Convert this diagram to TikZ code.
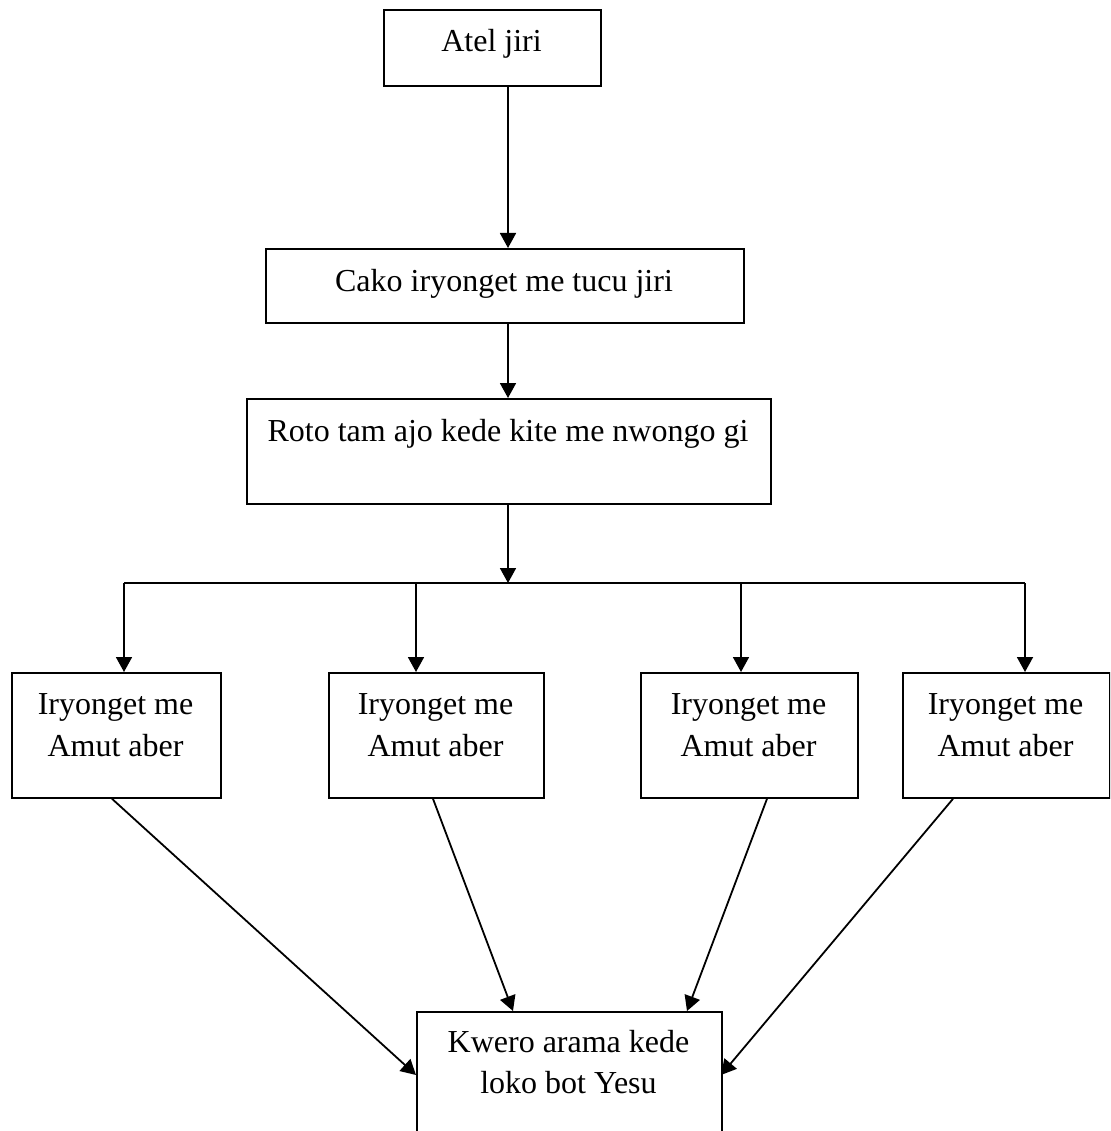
\documentclass[tikz,border=0pt]{standalone}
\usepackage{fontspec}
\setmainfont{Liberation Serif}
\usetikzlibrary{arrows.meta}
\tikzset{
  box/.style={draw, line width=1.8pt, inner sep=0pt, anchor=north west},
  txt/.style={anchor=base, inner sep=0pt, font=\fontsize{32}{42}\selectfont},
  conn/.style={line width=1.8pt},
  arr/.style={line width=1.8pt, -{Triangle[length=15pt,width=16pt]}}
}
\begin{document}
\begin{tikzpicture}[x=1pt,y=-1pt]
\useasboundingbox (0,0) rectangle (1110,1131);
\clip (0,0) rectangle (1110,1131);
% boxes
\node[box, minimum width=217pt, minimum height=76pt] (T) at (383,9) {};
\node[box, minimum width=478pt, minimum height=74pt] (B2) at (265,248) {};
\node[box, minimum width=524pt, minimum height=105pt] (B3) at (246,398) {};
\node[box, minimum width=209pt, minimum height=125pt] (A) at (11,672) {};
\node[box, minimum width=215pt, minimum height=125pt] (B) at (328,672) {};
\node[box, minimum width=217pt, minimum height=125pt] (C) at (640,672) {};
\node[box, minimum width=207pt, minimum height=125pt] (D) at (902,672) {};
\node[box, minimum width=305pt, minimum height=160pt] (E) at (416,1011) {};
% texts
\node[txt] (tT) at (491.5,52) {Atel jiri};
\node[txt] (tB2) at (504,291) {Cako iryonget me tucu jiri};
\node[txt] (tB3) at (508,441) {Roto tam ajo kede kite me nwongo gi};
\node[txt] (tA1) at (115.5,714) {Iryonget me};
\node[txt] (tA2) at (115.5,756) {Amut aber};
\node[txt] (tB1) at (435.5,714) {Iryonget me};
\node[txt] (tB2b) at (435.5,756) {Amut aber};
\node[txt] (tC1) at (748.5,714) {Iryonget me};
\node[txt] (tC2) at (748.5,756) {Amut aber};
\node[txt] (tD1) at (1005.5,714) {Iryonget me};
\node[txt] (tD2) at (1005.5,756) {Amut aber};
\node[txt] (tE1) at (568.5,1052) {Kwero arama kede};
\node[txt] (tE2) at (568.5,1093) {loko bot Yesu};
% coordinates
\coordinate (sp) at (508,0);
\coordinate (br) at (508,583);
\coordinate (h1) at (124,583);
\coordinate (h2) at (416,583);
\coordinate (h3) at (741,583);
\coordinate (h4) at (1025,583);
\coordinate (a0) at (112,0);
\coordinate (b0) at (433,0);
\coordinate (c0) at (767,0);
\coordinate (d0) at (953,0);
\coordinate (eL) at (416,1075);
\coordinate (eB) at (513,1011);
\coordinate (eC) at (687,1011);
\coordinate (eR) at (721,1075);
% connectors
\draw[arr] (T.south -| sp) -- (B2.north -| sp);
\draw[arr] (B2.south -| sp) -- (B3.north -| sp);
\draw[arr] (B3.south -| sp) -- (br);
\draw[conn] (h1) -- (h4);
\draw[arr] (h1) -- (A.north -| h1);
\draw[arr] (h2) -- (B.north -| h2);
\draw[arr] (h3) -- (C.north -| h3);
\draw[arr] (h4) -- (D.north -| h4);
\draw[arr] (A.south -| a0) -- (eL);
\draw[arr] (B.south -| b0) -- (eB);
\draw[arr] (C.south -| c0) -- (eC);
\draw[arr] (D.south -| d0) -- (eR);
\end{tikzpicture}
\end{document}
